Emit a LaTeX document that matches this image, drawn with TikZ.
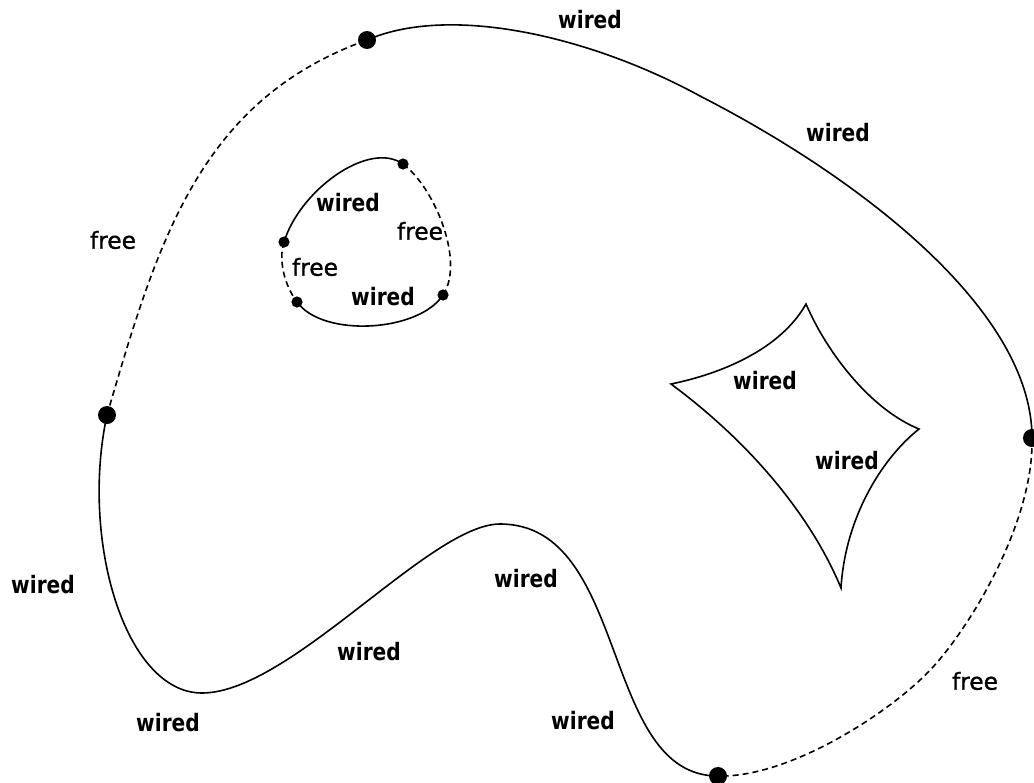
\documentclass[tikz,border=0pt]{standalone}
\usepackage{fontspec}
\newfontfamily\wfont{DejaVu Sans}[FakeStretch=0.84]
\newfontfamily\ffont{DejaVu Sans}[FakeBold=1.2]
\tikzset{
  wire/.style={line width=1.2pt, line join=round},
  freeline/.style={line width=1.2pt, dash pattern=on 4.5pt off 3pt},
  bigdot/.style={circle, fill=black, inner sep=0, minimum size=13.5pt},
  smalldot/.style={circle, fill=black, inner sep=0, minimum size=8.4pt},
  wlabel/.style={font=\wfont\bfseries\fontsize{18}{21}\selectfont, inner sep=0},
  flabel/.style={font=\ffont\fontsize{17.5}{21}\selectfont, inner sep=0}
}
\begin{document}
\begin{tikzpicture}[x=0.75pt,y=-0.75pt]
\useasboundingbox (0,0) rectangle (1034,782);
% outer loop corner points
\coordinate (P1) at (367,40);
\coordinate (P2) at (107,415);
\coordinate (P3) at (1032,438);
\coordinate (P4) at (718,776);
\coordinate (M1) at (700,96);
\coordinate (M2) at (933,667);
\coordinate (WT) at (500,524);
\coordinate (WB) at (202,693);
% outer loop
\draw[wire] (P1) .. controls (450,4) and (590,36) .. (M1)
                 .. controls (860,178) and (1032,310) .. (P3);
\draw[freeline] (P3) .. controls (1034,520) and (973,623) .. (M2)
                     .. controls (893,711) and (790,778) .. (P4);
\draw[wire] (P4) .. controls (600,776) and (630,524) .. (WT)
                 .. controls (430,524) and (290,693) .. (WB)
                 .. controls (125,693) and (80,540) .. (P2);
\draw[freeline] (P2) .. controls (158,240) and (200,100) .. (P1);
% inner loop
\coordinate (Q1) at (403,164);
\coordinate (Q2) at (284,242);
\coordinate (Q3) at (297,302);
\coordinate (Q4) at (443,295);
\draw[wire] (Q1) .. controls (369,140) and (300,190) .. (Q2);
\draw[freeline] (Q2) .. controls (278,261) and (285,286) .. (Q3);
\draw[wire] (Q3) .. controls (323,338) and (419,332) .. (Q4);
\draw[freeline] (Q4) .. controls (465,262) and (435,188) .. (Q1);
% star-shaped hole
\coordinate (SL) at (671,384);
\coordinate (ST) at (806,304);
\coordinate (SR) at (919,429);
\coordinate (SB) at (841,588);
\draw[wire, line join=miter] (SL) .. controls (720,374) and (780,350) .. (ST)
      .. controls (828,355) and (872,410) .. (SR)
      .. controls (880,460) and (845,520) .. (SB)
      .. controls (815,525) and (760,450) .. cycle;
% dots
\node[bigdot] (d1) at (P1) {};
\node[bigdot] (d2) at (P2) {};
\node[bigdot] (d3) at (P3) {};
\node[bigdot] (d4) at (P4) {};
\node[smalldot] (e1) at (Q1) {};
\node[smalldot] (e2) at (Q2) {};
\node[smalldot] (e3) at (Q3) {};
\node[smalldot] (e4) at (Q4) {};
% labels
\node[wlabel] (l1) at (590,20) {wired};
\node[wlabel] (l2) at (838,133) {wired};
\node[flabel] (l3) at (113,240) {free};
\node[wlabel] (l4) at (348,203) {wired};
\node[flabel] (l5) at (420,231) {free};
\node[flabel] (l6) at (315,267) {free};
\node[wlabel] (l7) at (383,297) {wired};
\node[wlabel] (l8) at (765,381) {wired};
\node[wlabel] (l9) at (847,461) {wired};
\node[wlabel] (l10) at (43,585) {wired};
\node[wlabel] (l11) at (526,579) {wired};
\node[wlabel] (l12) at (369,652) {wired};
\node[wlabel] (l13) at (168,723) {wired};
\node[wlabel] (l14) at (583,721) {wired};
\node[flabel] (l15) at (975,681) {free};
\end{tikzpicture}
\end{document}
